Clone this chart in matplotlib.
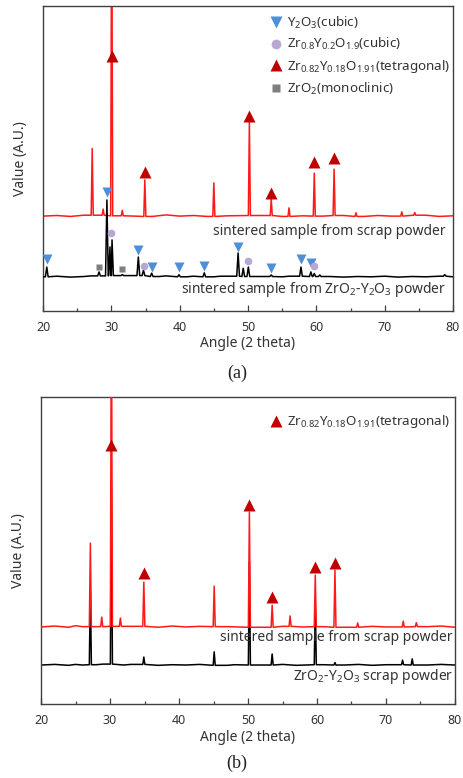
import matplotlib
matplotlib.use("Agg")
import matplotlib.pyplot as plt
from matplotlib.lines import Line2D

plt.rcParams['font.family'] = ['Noto Sans', 'DejaVu Sans']
plt.rcParams['mathtext.fontset'] = 'custom'
plt.rcParams['mathtext.rm'] = 'Noto Sans'
plt.rcParams['mathtext.it'] = 'Noto Sans:italic'
plt.rcParams['mathtext.bf'] = 'Noto Sans:bold'

# ---------------- data (2 theta in degrees, intensity in arbitrary units) -------------
# Panel (a)
red_a_base_x = [20, 22, 24, 26, 32, 36, 38, 40, 42, 44, 47, 52, 55, 58, 61, 64, 67, 69, 71, 76, 78, 80]
red_a_base_y = [31.1, 31.3, 31.0, 31.4, 31.2, 31.0, 31.5, 31.1, 31.3, 31.0, 31.2, 31.3, 31.0, 31.2, 31.1, 31.3, 31.0, 31.3, 31.1, 31.4, 31.0, 31.2]
red_a_peak_x = [27.2, 28.8, 30.05, 31.6, 34.9, 45.0, 50.2, 53.4, 56.0, 59.7, 62.6, 65.8, 72.5, 74.4]
red_a_peak_y = [53.3, 33.4, 140.0, 33.0, 43.0, 42.0, 62.0, 36.7, 33.8, 45.2, 46.5, 32.2, 32.5, 32.3]

black_a_base_x = [20, 22, 24, 26, 27, 32.5, 37, 38, 41, 42, 45, 46, 52, 55, 56, 62, 64, 66, 68, 70, 72, 74, 76, 78, 80]
black_a_base_y = [11.2, 11.4, 11.1, 11.3, 11.5, 11.6, 11.3, 11.5, 11.2, 11.4, 11.2, 11.4, 11.3, 11.2, 11.4, 11.3, 11.1, 11.3, 11.2, 11.4, 11.1, 11.3, 11.2, 11.4, 11.2]
black_a_peak_x = [20.55, 28.2, 29.35, 29.8, 30.1, 31.6, 33.95, 34.7, 35.9, 39.9, 43.6, 48.55, 49.3, 50.05, 53.4, 57.75, 59.2, 59.7, 60.5, 78.8]
black_a_peak_y = [14.4, 12.8, 36.4, 21.0, 23.3, 11.9, 17.7, 13.4, 12.4, 11.9, 12.5, 19.0, 14.0, 14.4, 11.8, 14.4, 12.8, 12.3, 11.8, 11.9]

y2o3_a_x = [20.6, 29.35, 33.95, 35.9, 39.9, 43.6, 48.55, 53.4, 57.8, 59.2]
y2o3_a_y = [17.0, 39.0, 20.0, 14.4, 14.4, 14.8, 21.0, 14.1, 17.0, 15.7]
zyo_cubic_a_x = [30.0, 34.8, 50.05, 59.7]
zyo_cubic_a_y = [25.6, 14.8, 16.4, 14.8]
zro2_mono_a_x = [28.2, 31.6]
zro2_mono_a_y = [14.4, 13.8]
tet_a_x = [30.05, 34.9, 50.2, 53.4, 59.7, 62.6]
tet_a_y = [83.6, 45.6, 63.9, 38.7, 48.9, 50.2]

# Panel (b)
red_b_base_x = [20, 22, 24, 25, 26, 33, 37, 39, 41, 43, 47, 52, 55, 58, 61, 64, 68, 70, 76, 78, 80]
red_b_base_y = [25.1, 25.4, 25.0, 25.5, 25.2, 25.3, 25.0, 25.4, 25.1, 25.3, 25.2, 25.0, 25.3, 25.1, 25.2, 25.0, 25.3, 25.1, 25.2, 25.4, 25.0]
red_b_peak_x = [27.15, 28.8, 30.2, 31.5, 34.9, 45.1, 50.2, 53.5, 56.1, 59.75, 62.6, 65.9, 72.5, 74.4]
red_b_peak_y = [52.4, 28.3, 140.0, 28.0, 39.7, 38.4, 62.5, 32.2, 28.7, 42.0, 43.6, 26.4, 27.0, 26.5]

black_b_base_x = [20, 22, 24, 25, 26, 28, 29, 32, 33, 37, 39, 41, 43, 47, 48, 52, 55, 57, 61, 64, 66, 68, 70, 76, 78, 80]
black_b_base_y = [12.7, 12.9, 12.6, 12.9, 12.7, 12.8, 13.0, 12.7, 12.9, 12.6, 12.8, 12.7, 12.9, 12.6, 12.8, 12.7, 12.9, 12.6, 12.8, 12.7, 12.9, 12.6, 12.8, 12.7, 12.9, 12.7]
black_b_peak_x = [27.15, 30.2, 34.9, 45.1, 50.2, 53.5, 59.75, 62.6, 72.4, 73.8]
black_b_peak_y = [37.8, 70.7, 15.3, 17.0, 46.3, 16.3, 33.2, 13.5, 14.3, 14.7]

tet_b_x = [30.1, 34.9, 50.2, 53.5, 59.7, 62.6]
tet_b_y = [84.4, 42.7, 64.8, 34.9, 44.6, 45.9]

# ---------------- helpers -------------
def pattern(base_x, base_y, peak_x, peak_y, half_width):
    """Join baseline readings and peak apexes into one polyline."""
    pts = []
    for bx, by in zip(base_x, base_y):
        if all(abs(bx - px) > half_width for px in peak_x):
            pts.append((bx, by))
    for px, py in zip(peak_x, peak_y):
        nb = min(range(len(base_x)), key=lambda i: abs(base_x[i] - px))
        b = base_y[nb]
        pts.append((px - half_width, b))
        pts.append((px, py))
        pts.append((px + half_width, b))
    pts.sort(key=lambda p: p[0])
    return [p[0] for p in pts], [p[1] for p in pts]

RED = '#ff1a1a'
DARKRED = '#c00000'
BLUE = '#4f8fd8'
PURPLE = '#b9a7d3'
GRAY = '#7f7f7f'
FRAME = '#404040'
TXT = '#333333'

fig = plt.figure(figsize=(4.63, 7.78), dpi=100)
ax_a = fig.add_axes([0.0929, 0.6003, 0.8855, 0.3920])
ax_b = fig.add_axes([0.0886, 0.0951, 0.8941, 0.3946])

def style(ax):
    ax.set_xlim(20, 80)
    ax.set_ylim(0, 100)
    ax.set_xticks([20, 30, 40, 50, 60, 70, 80])
    ax.set_xticks([25, 35, 45, 55, 65, 75], minor=True)
    ax.set_yticks([])
    ax.tick_params(axis='x', which='major', direction='in', length=4, width=0.9,
                   color=FRAME, labelsize=9, labelcolor=TXT, pad=7)
    ax.tick_params(axis='x', which='minor', direction='in', length=2.5, width=0.9, color=FRAME)
    for s in ax.spines.values():
        s.set_color(FRAME)
        s.set_linewidth(1.0)
    ax.set_xlabel('Angle (2 theta)', fontsize=10, color=TXT, labelpad=2)
    ax.set_ylabel('Value (A.U.)', fontsize=10, color=TXT, labelpad=11)

LEG_KW = dict(loc='upper left', frameon=False, fontsize=9.6,
              handletextpad=0.25, handlelength=1.2, borderaxespad=0.35, borderpad=0.3)

# ---- panel (a)
style(ax_a)
rx, ry = pattern(red_a_base_x, red_a_base_y, red_a_peak_x, red_a_peak_y, 0.15)
bx, by = pattern(black_a_base_x, black_a_base_y, black_a_peak_x, black_a_peak_y, 0.2)
ax_a.plot(rx, ry, color=RED, lw=1.1, zorder=2)
ax_a.plot(bx, by, color='black', lw=1.1, zorder=3)
ax_a.plot(y2o3_a_x, y2o3_a_y, 'v', color=BLUE, ms=6.5, mec='none', zorder=4)
ax_a.plot(zyo_cubic_a_x, zyo_cubic_a_y, 'o', color=PURPLE, ms=5.5, mec='none', zorder=4)
ax_a.plot(zro2_mono_a_x, zro2_mono_a_y, 's', color=GRAY, ms=5, mec='none', zorder=4)
ax_a.plot(tet_a_x, tet_a_y, '^', color=DARKRED, ms=9, mec='none', zorder=4)
ax_a.text(0.983, 0.262, 'sintered sample from scrap powder', transform=ax_a.transAxes,
          ha='right', va='center', fontsize=10, color=TXT)
ax_a.text(0.983, 0.069, r'sintered sample from ZrO$_2$-Y$_2$O$_3$ powder', transform=ax_a.transAxes,
          ha='right', va='center', fontsize=10, color=TXT)
handles_a = [
    Line2D([], [], ls='none', marker='v', color=BLUE, ms=8, mec='none'),
    Line2D([], [], ls='none', marker='o', color=PURPLE, ms=7, mec='none'),
    Line2D([], [], ls='none', marker='^', color=DARKRED, ms=8, mec='none'),
    Line2D([], [], ls='none', marker='s', color=GRAY, ms=6, mec='none'),
]
labels_a = [r'Y$_2$O$_3$(cubic)', r'Zr$_{0.8}$Y$_{0.2}$O$_{1.9}$(cubic)',
            r'Zr$_{0.82}$Y$_{0.18}$O$_{1.91}$(tetragonal)', r'ZrO$_2$(monoclinic)']
leg = ax_a.legend(handles_a, labels_a, labelspacing=0.42, bbox_to_anchor=(0.527, 1.0), **LEG_KW)
for t in leg.get_texts():
    t.set_color(TXT)

# ---- panel (b)
style(ax_b)
rx, ry = pattern(red_b_base_x, red_b_base_y, red_b_peak_x, red_b_peak_y, 0.15)
bx, by = pattern(black_b_base_x, black_b_base_y, black_b_peak_x, black_b_peak_y, 0.15)
ax_b.plot(bx, by, color='black', lw=1.1, zorder=2)
ax_b.plot(rx, ry, color=RED, lw=1.1, zorder=3)
ax_b.plot(tet_b_x, tet_b_y, '^', color=DARKRED, ms=9, mec='none', zorder=4)
ax_b.text(0.995, 0.218, 'sintered sample from scrap powder', transform=ax_b.transAxes,
          ha='right', va='center', fontsize=10, color=TXT)
ax_b.text(0.995, 0.088, r'ZrO$_2$-Y$_2$O$_3$ scrap powder', transform=ax_b.transAxes,
          ha='right', va='center', fontsize=10, color=TXT)
leg_b = ax_b.legend([handles_a[2]], [labels_a[2]], bbox_to_anchor=(0.527, 0.975), **LEG_KW)
for t in leg_b.get_texts():
    t.set_color(TXT)

fig.text(0.512, 0.5206, '(a)', ha='center', va='center', fontsize=13,
         family='Liberation Serif', color='#222222')
fig.text(0.512, 0.0193, '(b)', ha='center', va='center', fontsize=13,
         family='Liberation Serif', color='#222222')

fig.savefig('out.png', dpi=100)
